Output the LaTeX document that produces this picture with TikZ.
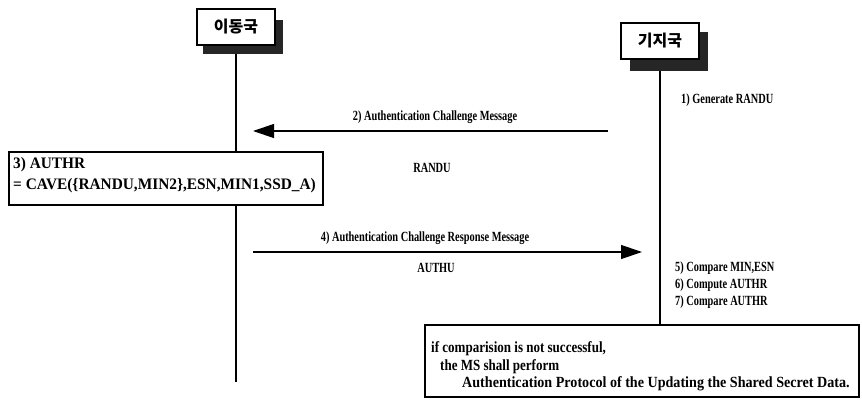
\documentclass[tikz,border=0pt]{standalone}
\usepackage{fontspec}
\setmainfont{Liberation Serif}
\newfontfamily\lblfont[FakeStretch=0.74]{Liberation Serif Bold}
\newfontfamily\boxfont[FakeStretch=0.84]{Liberation Serif Bold}
\newfontfamily\boxwfont[FakeStretch=0.91]{Liberation Serif Bold}
\newfontfamily\boxcfont[FakeStretch=0.96]{Liberation Serif Bold}
\newfontfamily\kr{Noto Sans CJK KR}
\usetikzlibrary{arrows.meta}
\begin{document}
\begin{tikzpicture}[x=1pt,y=-1pt,
  hdr/.style={draw,line width=1.3pt,fill=white,font=\kr\bfseries\fontsize{16}{18}\selectfont,inner sep=0pt,minimum width=78pt,minimum height=36pt},
  shade/.style={fill=black!85},
  life/.style={line width=1.2pt},
  msg/.style={line width=1.2pt,-{Triangle[length=21pt,width=14pt]}},
  lbl/.style={font=\lblfont\fontsize{14}{16}\selectfont,inner sep=0pt},
  btxt/.style={font=\boxfont\fontsize{15.5}{17}\selectfont,inner sep=0pt},
  bwtxt/.style={font=\boxwfont\fontsize{15.5}{17}\selectfont,inner sep=0pt},
  bctxt/.style={font=\boxcfont\fontsize{16}{18}\selectfont,inner sep=0pt},
  box/.style={draw,line width=1.1pt,fill=white}]
\useasboundingbox (0,0) rectangle (862,407);
% shadows
\fill[shade] (203,20) rectangle (283,54);
\fill[shade] (630,32) rectangle (708,71);
% header boxes
\node[hdr] (ms) at (236,27) {이동국};
\node[hdr] (bs) at (660,41) {기지국};
% lifelines
\coordinate (msTop) at (236,54);
\coordinate (msBot) at (236,382);
\coordinate (bsTop) at (660,71);
\coordinate (bsBot) at (660,326);
\draw[life] (msTop) -- (msBot);
\draw[life] (bsTop) -- (bsBot);
% step 1
\node[lbl,anchor=west] (s1) at (681,100) {1) Generate RANDU};
% message 2
\coordinate (m2s) at (608,131);
\coordinate (m2e) at (253,131);
\draw[msg] (m2s) -- (m2e);
\node[lbl] (m2l) at (435,117) {2) Authentication Challenge Message};
\node[lbl] (m2p) at (432,168) {RANDU};
% box 3
\node[box,minimum width=314pt,minimum height=53pt] (b3) at (166,178.5) {};
\node[bctxt,anchor=west] (t3a) at (13,165) {3) AUTHR};
\node[bctxt,anchor=west] (t3b) at (13,186) {= CAVE(\{RANDU,MIN2\},ESN,MIN1,SSD\_A)};
% message 4
\coordinate (m4s) at (253,252);
\coordinate (m4e) at (642,252);
\draw[msg] (m4s) -- (m4e);
\node[lbl] (m4l) at (425,238) {4) Authentication Challenge Response Message};
\node[lbl] (m4p) at (436,268) {AUTHU};
% steps 5-7
\node[lbl,anchor=west] (s5) at (675,268) {5) Compare MIN,ESN};
\node[lbl,anchor=west] (s6) at (675,285) {6) Compute AUTHR};
\node[lbl,anchor=west] (s7) at (675,302) {7) Compare AUTHR};
% bottom box
\node[box,minimum width=434pt,minimum height=72pt] (bb) at (642,361) {};
\node[btxt,anchor=west] (ba) at (431,349) {if comparision is not successful,};
\node[btxt,anchor=west] (bb2) at (440,367) {the MS shall perform};
\node[bwtxt,anchor=west] (bc) at (462,384) {Authentication Protocol of the Updating the Shared Secret Data.};
\end{tikzpicture}
\end{document}
